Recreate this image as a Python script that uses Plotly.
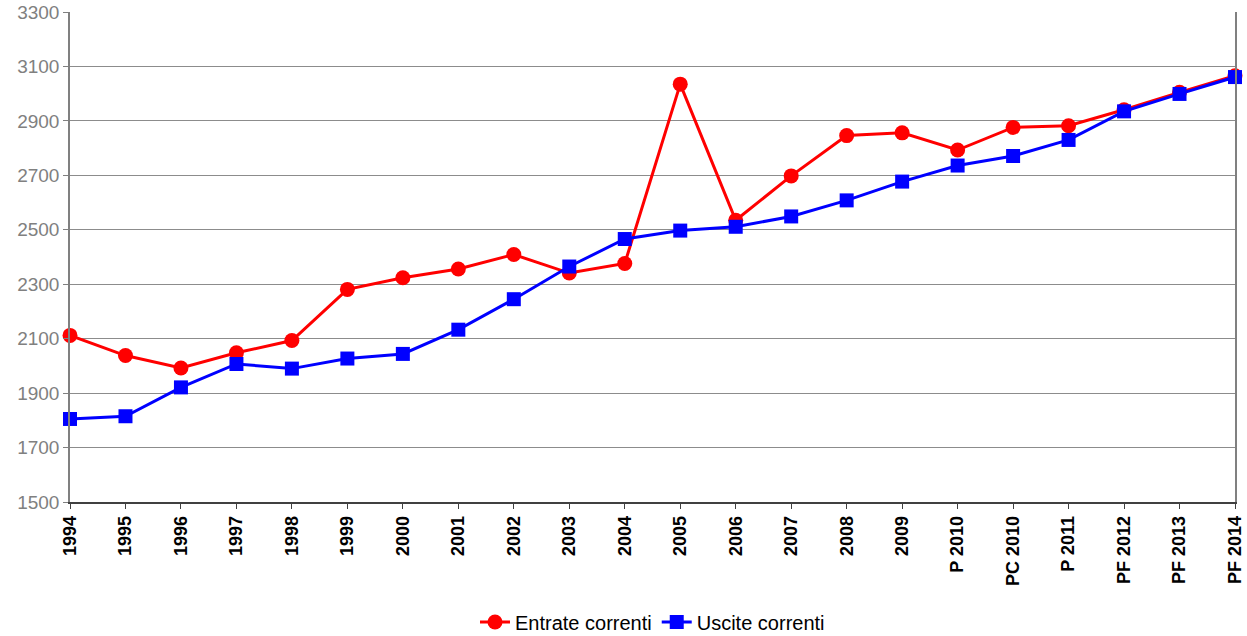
import plotly.graph_objects as go

# Categories (years, with forecast labels)
categories = ["1994", "1995", "1996", "1997", "1998", "1999", "2000", "2001",
              "2002", "2003", "2004", "2005", "2006", "2007", "2008", "2009",
              "P 2010", "PC 2010", "P 2011", "PF 2012", "PF 2013", "PF 2014"]

# Current revenues
entrate_correnti = [2112, 2038, 1992, 2048, 2093, 2281, 2324, 2356, 2409, 2341,
                    2376, 3035, 2535, 2698, 2846, 2856, 2793, 2876, 2882, 2941,
                    3005, 3066]

# Current expenditures
uscite_correnti = [1805, 1815, 1921, 2007, 1990, 2027, 2044, 2133, 2245, 2365,
                   2466, 2497, 2511, 2549, 2608, 2677, 2736, 2771, 2830, 2935,
                   2999, 3061]

y_ticks = [1500, 1700, 1900, 2100, 2300, 2500, 2700, 2900, 3100, 3300]

x_pos = list(range(len(categories)))
FONT = "Arial, Liberation Sans, sans-serif"

fig = go.Figure()
fig.add_trace(go.Scatter(
    x=x_pos, y=entrate_correnti, name="Entrate correnti",
    mode="lines+markers", cliponaxis=False,
    line=dict(color="#ff0000", width=3),
    marker=dict(symbol="circle", size=15, color="#ff0000"),
))
fig.add_trace(go.Scatter(
    x=x_pos, y=uscite_correnti, name="Uscite correnti",
    mode="lines+markers", cliponaxis=False,
    line=dict(color="#0000ff", width=3),
    marker=dict(symbol="square", size=14, color="#0000ff"),
))

fig.update_layout(
    width=1247, height=636,
    margin=dict(l=70, r=12, t=12, b=134, autoexpand=False),
    paper_bgcolor="white", plot_bgcolor="white",
    font=dict(family=FONT, color="black"),
    showlegend=True,
    legend=dict(orientation="h", x=0.5, xanchor="center",
                yref="container", y=0.022, yanchor="middle",
                font=dict(size=20, color="black"),
                itemwidth=30, tracegroupgap=0),
)

fig.update_xaxes(
    range=[0, len(categories) - 1],
    tickmode="array", tickvals=x_pos,
    ticktext=["<b>%s</b>" % c for c in categories],
    tickangle=-90, tickfont=dict(size=18, color="black", family=FONT),
    ticks="outside", ticklen=5, tickcolor="#404040",
    showline=True, linecolor="#404040", linewidth=1.5,
    showgrid=False, zeroline=False, automargin=False,
)

fig.update_yaxes(
    range=[1500, 3300],
    tickmode="array", tickvals=y_ticks,
    tickfont=dict(size=19, color="#808080", family=FONT),
    ticks="outside", ticklen=5, tickcolor="#808080",
    showline=True, linecolor="#808080", linewidth=1.5, mirror=True,
    showgrid=True, gridcolor="#8c8c8c", gridwidth=1,
    zeroline=False, automargin=False,
)

fig.write_html("out.html")
